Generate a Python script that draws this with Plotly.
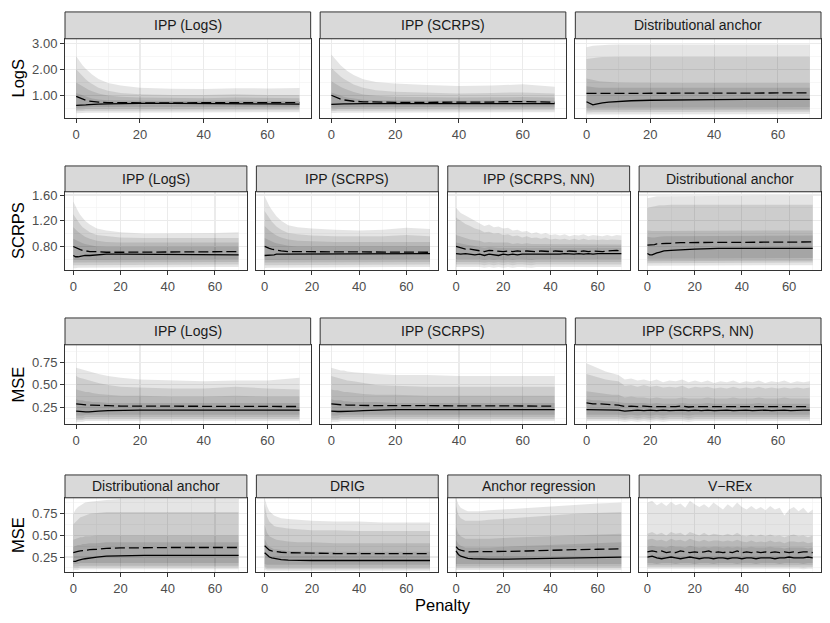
import plotly.graph_objects as go

W, H = 830, 623

# ---------------- penalty grids ----------------
XS = [0, 1, 2, 3, 4, 5, 7, 10, 14, 20, 30, 40, 50, 60, 70]
XN = [0, 2, 4, 6, 8, 10, 12, 14, 16, 18, 20, 22, 24, 26, 28, 30, 32, 34,
      36, 38, 40, 42, 44, 46, 48, 50, 52, 54, 56, 58, 60, 62, 64, 66, 68, 70]

# ================= Row 1 : LogS =================
# IPP (LogS)
L1_HI1 = [2.50, 2.32, 2.16, 2.02, 1.90, 1.80, 1.63, 1.48, 1.38, 1.30, 1.26, 1.25, 1.28, 1.27, 1.29]
L1_HI2 = [2.00, 1.86, 1.73, 1.62, 1.52, 1.44, 1.30, 1.18, 1.10, 1.05, 1.02, 1.02, 1.05, 1.02, 1.02]
L1_HI3 = [1.50, 1.42, 1.34, 1.27, 1.21, 1.16, 1.08, 1.00, 0.95, 0.92, 0.90, 0.90, 0.92, 0.90, 0.90]
L1_HI4 = [1.10, 1.05, 1.00, 0.96, 0.92, 0.89, 0.85, 0.82, 0.81, 0.80, 0.79, 0.80, 0.81, 0.79, 0.79]
L1_LO4 = [0.52, 0.53, 0.54, 0.55, 0.55, 0.56, 0.56, 0.57, 0.57, 0.58, 0.58, 0.58, 0.58, 0.57, 0.57]
L1_LO3 = [0.46, 0.47, 0.47, 0.48, 0.48, 0.49, 0.49, 0.50, 0.50, 0.50, 0.50, 0.50, 0.50, 0.50, 0.50]
L1_LO2 = [0.40, 0.41, 0.41, 0.42, 0.42, 0.43, 0.43, 0.44, 0.44, 0.44, 0.44, 0.44, 0.44, 0.44, 0.44]
L1_LO1 = [0.32, 0.33, 0.33, 0.34, 0.34, 0.35, 0.35, 0.36, 0.36, 0.36, 0.36, 0.36, 0.36, 0.36, 0.36]
L1_MEAN = [0.97, 0.91, 0.86, 0.82, 0.79, 0.77, 0.75, 0.73, 0.72, 0.72, 0.72, 0.73, 0.74, 0.73, 0.73]
L1_MED = [0.62, 0.62, 0.63, 0.64, 0.65, 0.66, 0.67, 0.68, 0.69, 0.70, 0.70, 0.70, 0.70, 0.68, 0.67]

# IPP (SCRPS)
L2_HI1 = [2.57, 2.42, 2.28, 2.15, 2.04, 1.94, 1.78, 1.62, 1.52, 1.46, 1.40, 1.36, 1.38, 1.43, 1.34]
L2_HI2 = [2.05, 1.93, 1.82, 1.72, 1.63, 1.55, 1.42, 1.30, 1.20, 1.14, 1.10, 1.08, 1.10, 1.12, 1.08]
L2_HI3 = [1.55, 1.47, 1.40, 1.33, 1.27, 1.22, 1.13, 1.04, 0.99, 0.95, 0.93, 0.92, 0.93, 0.94, 0.92]
L2_HI4 = [1.12, 1.07, 1.03, 0.99, 0.95, 0.92, 0.88, 0.84, 0.82, 0.81, 0.80, 0.80, 0.81, 0.82, 0.80]
L2_LO4 = [0.53, 0.54, 0.54, 0.55, 0.55, 0.56, 0.56, 0.57, 0.57, 0.57, 0.57, 0.57, 0.57, 0.57, 0.57]
L2_LO3 = [0.47, 0.47, 0.48, 0.48, 0.49, 0.49, 0.49, 0.50, 0.50, 0.50, 0.50, 0.50, 0.50, 0.50, 0.50]
L2_LO2 = [0.41, 0.41, 0.42, 0.42, 0.43, 0.43, 0.43, 0.44, 0.44, 0.44, 0.44, 0.44, 0.44, 0.44, 0.44]
L2_LO1 = [0.33, 0.33, 0.34, 0.34, 0.35, 0.35, 0.35, 0.36, 0.36, 0.36, 0.36, 0.36, 0.36, 0.36, 0.36]
L2_MEAN = [1.01, 0.95, 0.90, 0.86, 0.83, 0.81, 0.78, 0.76, 0.75, 0.74, 0.74, 0.74, 0.75, 0.77, 0.74]
L2_MED = [0.66, 0.67, 0.67, 0.68, 0.68, 0.68, 0.69, 0.69, 0.69, 0.69, 0.69, 0.69, 0.69, 0.70, 0.69]

# Distributional anchor
L3_HI1 = [2.85, 2.88, 2.90, 2.91, 2.92, 2.93, 2.94, 2.95, 2.95, 2.95, 2.95, 2.95, 2.95, 2.95, 2.95]
L3_HI2 = [2.40, 2.42, 2.44, 2.45, 2.46, 2.47, 2.48, 2.48, 2.48, 2.48, 2.48, 2.48, 2.48, 2.48, 2.48]
L3_HI3 = [1.65, 1.62, 1.59, 1.57, 1.55, 1.54, 1.52, 1.50, 1.49, 1.48, 1.48, 1.48, 1.48, 1.48, 1.48]
L3_HI4 = [1.35, 1.33, 1.32, 1.31, 1.30, 1.30, 1.30, 1.30, 1.30, 1.30, 1.30, 1.30, 1.30, 1.30, 1.30]
L3_LO4 = [0.52, 0.52, 0.53, 0.54, 0.54, 0.55, 0.55, 0.55, 0.55, 0.55, 0.55, 0.55, 0.55, 0.55, 0.55]
L3_LO3 = [0.43, 0.43, 0.44, 0.45, 0.45, 0.46, 0.46, 0.46, 0.46, 0.46, 0.46, 0.46, 0.46, 0.46, 0.46]
L3_LO2 = [0.35, 0.35, 0.36, 0.37, 0.37, 0.38, 0.38, 0.38, 0.38, 0.38, 0.38, 0.38, 0.38, 0.38, 0.38]
L3_LO1 = [0.27, 0.27, 0.28, 0.28, 0.29, 0.29, 0.29, 0.29, 0.29, 0.29, 0.29, 0.29, 0.29, 0.29, 0.29]
L3_MEAN = [1.08, 1.08, 1.09, 1.09, 1.09, 1.10, 1.10, 1.10, 1.10, 1.10, 1.10, 1.10, 1.10, 1.10, 1.10]
L3_MED = [0.76, 0.69, 0.64, 0.67, 0.70, 0.72, 0.75, 0.78, 0.80, 0.82, 0.84, 0.84, 0.85, 0.85, 0.85]

# ================= Row 2 : SCRPS =================
# IPP (LogS)
S1_HI1 = [1.50, 1.42, 1.35, 1.29, 1.24, 1.20, 1.14, 1.08, 1.05, 1.02, 1.00, 1.00, 1.00, 1.01, 1.02]
S1_HI2 = [1.30, 1.24, 1.19, 1.14, 1.10, 1.07, 1.02, 0.98, 0.96, 0.94, 0.93, 0.93, 0.93, 0.93, 0.93]
S1_HI3 = [1.10, 1.06, 1.03, 1.00, 0.97, 0.95, 0.92, 0.89, 0.87, 0.86, 0.86, 0.86, 0.86, 0.86, 0.86]
S1_HI4 = [0.92, 0.90, 0.88, 0.86, 0.85, 0.84, 0.82, 0.80, 0.79, 0.79, 0.79, 0.79, 0.79, 0.79, 0.79]
S1_LO4 = [0.59, 0.59, 0.59, 0.60, 0.60, 0.60, 0.60, 0.60, 0.60, 0.60, 0.60, 0.60, 0.60, 0.60, 0.60]
S1_LO3 = [0.55, 0.55, 0.55, 0.56, 0.56, 0.56, 0.56, 0.56, 0.56, 0.56, 0.56, 0.56, 0.56, 0.56, 0.56]
S1_LO2 = [0.51, 0.51, 0.51, 0.52, 0.52, 0.52, 0.52, 0.52, 0.52, 0.52, 0.52, 0.52, 0.52, 0.52, 0.52]
S1_LO1 = [0.46, 0.46, 0.47, 0.47, 0.47, 0.47, 0.48, 0.48, 0.48, 0.48, 0.48, 0.48, 0.48, 0.48, 0.48]
S1_MEAN = [0.80, 0.78, 0.76, 0.75, 0.74, 0.73, 0.72, 0.72, 0.71, 0.71, 0.71, 0.71, 0.71, 0.71, 0.72]
S1_MED = [0.66, 0.64, 0.64, 0.65, 0.65, 0.66, 0.66, 0.67, 0.68, 0.68, 0.68, 0.68, 0.67, 0.67, 0.67]

# IPP (SCRPS)
S2_HI1 = [1.58, 1.50, 1.43, 1.37, 1.32, 1.27, 1.20, 1.13, 1.10, 1.08, 1.06, 1.05, 1.06, 1.09, 1.07]
S2_HI2 = [1.35, 1.29, 1.24, 1.19, 1.15, 1.11, 1.06, 1.01, 0.99, 0.97, 0.96, 0.96, 0.96, 0.98, 0.96]
S2_HI3 = [1.12, 1.08, 1.05, 1.02, 0.99, 0.97, 0.94, 0.91, 0.89, 0.88, 0.87, 0.87, 0.87, 0.88, 0.87]
S2_HI4 = [0.93, 0.91, 0.89, 0.87, 0.86, 0.85, 0.83, 0.81, 0.80, 0.80, 0.80, 0.80, 0.80, 0.81, 0.80]
S2_LO4 = [0.59, 0.59, 0.60, 0.60, 0.60, 0.60, 0.60, 0.60, 0.60, 0.60, 0.60, 0.60, 0.60, 0.60, 0.60]
S2_LO3 = [0.55, 0.55, 0.56, 0.56, 0.56, 0.56, 0.56, 0.56, 0.56, 0.56, 0.56, 0.56, 0.56, 0.56, 0.56]
S2_LO2 = [0.51, 0.51, 0.52, 0.52, 0.52, 0.52, 0.52, 0.52, 0.52, 0.52, 0.52, 0.52, 0.52, 0.52, 0.52]
S2_LO1 = [0.46, 0.47, 0.47, 0.47, 0.47, 0.48, 0.48, 0.48, 0.48, 0.48, 0.48, 0.48, 0.48, 0.48, 0.48]
S2_MEAN = [0.80, 0.78, 0.77, 0.76, 0.75, 0.74, 0.73, 0.72, 0.72, 0.71, 0.71, 0.71, 0.71, 0.72, 0.71]
S2_MED = [0.66, 0.66, 0.67, 0.67, 0.67, 0.68, 0.68, 0.68, 0.69, 0.69, 0.69, 0.69, 0.69, 0.69, 0.69]

# IPP (SCRPS, NN)  (noisy, on XN)
S3_HI1 = [1.40, 1.32, 1.28, 1.24, 1.20, 1.17, 1.12, 1.14, 1.10, 1.11, 1.08, 1.09, 1.05, 1.06, 1.03, 1.04, 1.00, 1.02,
          0.99, 1.01, 0.98, 0.99, 0.97, 0.99, 0.96, 0.98, 0.97, 0.99, 0.96, 0.98, 0.97, 0.96, 0.98, 0.96, 0.98, 0.97]
S3_HI2 = [1.25, 1.20, 1.15, 1.12, 1.08, 1.06, 1.02, 1.03, 1.00, 1.01, 0.98, 0.99, 0.96, 0.97, 0.94, 0.96, 0.93, 0.94,
          0.92, 0.94, 0.91, 0.92, 0.91, 0.92, 0.90, 0.92, 0.90, 0.92, 0.90, 0.91, 0.90, 0.91, 0.90, 0.91, 0.90, 0.90]
S3_HI3 = [0.98, 0.95, 0.93, 0.91, 0.90, 0.89, 0.86, 0.87, 0.86, 0.86, 0.85, 0.86, 0.84, 0.85, 0.84, 0.85, 0.84, 0.84,
          0.83, 0.84, 0.83, 0.84, 0.83, 0.84, 0.83, 0.83, 0.83, 0.84, 0.83, 0.83, 0.83, 0.84, 0.83, 0.83, 0.83, 0.83]
S3_HI4 = [0.86, 0.84, 0.83, 0.82, 0.81, 0.80, 0.78, 0.79, 0.78, 0.78, 0.78, 0.78, 0.77, 0.78, 0.77, 0.78, 0.77, 0.77,
          0.77, 0.77, 0.77, 0.77, 0.77, 0.77, 0.77, 0.77, 0.77, 0.78, 0.77, 0.77, 0.77, 0.78, 0.77, 0.78, 0.78, 0.78]
S3_LO4 = [0.60, 0.60, 0.60, 0.60, 0.60, 0.60, 0.59, 0.60, 0.59, 0.60, 0.59, 0.60, 0.59, 0.60, 0.60, 0.60, 0.59, 0.60,
          0.60, 0.60, 0.60, 0.60, 0.60, 0.60, 0.60, 0.60, 0.60, 0.60, 0.60, 0.60, 0.60, 0.60, 0.60, 0.61, 0.60, 0.60]
S3_LO3 = [0.56, 0.56, 0.56, 0.56, 0.56, 0.56, 0.55, 0.56, 0.55, 0.56, 0.55, 0.56, 0.55, 0.56, 0.56, 0.56, 0.55, 0.56,
          0.56, 0.56, 0.56, 0.56, 0.56, 0.56, 0.56, 0.56, 0.56, 0.56, 0.56, 0.56, 0.56, 0.56, 0.56, 0.57, 0.56, 0.56]
S3_LO2 = [0.52, 0.52, 0.52, 0.52, 0.52, 0.52, 0.51, 0.52, 0.51, 0.52, 0.51, 0.52, 0.51, 0.52, 0.52, 0.52, 0.51, 0.52,
          0.52, 0.52, 0.52, 0.52, 0.52, 0.52, 0.52, 0.52, 0.52, 0.52, 0.52, 0.52, 0.52, 0.52, 0.52, 0.53, 0.52, 0.52]
S3_LO1 = [0.48, 0.48, 0.48, 0.48, 0.48, 0.48, 0.47, 0.48, 0.47, 0.48, 0.47, 0.48, 0.47, 0.48, 0.48, 0.48, 0.47, 0.48,
          0.48, 0.48, 0.48, 0.48, 0.48, 0.48, 0.48, 0.48, 0.48, 0.48, 0.48, 0.48, 0.48, 0.48, 0.48, 0.49, 0.48, 0.48]
S3_MEAN = [0.80, 0.78, 0.76, 0.76, 0.75, 0.74, 0.72, 0.74, 0.73, 0.73, 0.72, 0.73, 0.72, 0.73, 0.72, 0.73, 0.72, 0.72,
           0.73, 0.72, 0.72, 0.73, 0.72, 0.72, 0.73, 0.72, 0.72, 0.73, 0.72, 0.73, 0.72, 0.72, 0.73, 0.74, 0.74, 0.73]
S3_MED = [0.69, 0.68, 0.69, 0.68, 0.67, 0.68, 0.66, 0.68, 0.67, 0.66, 0.68, 0.67, 0.68, 0.67, 0.68, 0.68, 0.67, 0.68,
          0.68, 0.67, 0.68, 0.68, 0.68, 0.69, 0.68, 0.68, 0.69, 0.68, 0.69, 0.68, 0.69, 0.69, 0.69, 0.70, 0.69, 0.69]

# Distributional anchor
S4_HI1 = [1.55, 1.56, 1.57, 1.57, 1.58, 1.58, 1.58, 1.58, 1.59, 1.59, 1.59, 1.59, 1.59, 1.59, 1.59]
S4_HI2 = [1.40, 1.41, 1.42, 1.43, 1.43, 1.44, 1.44, 1.45, 1.45, 1.45, 1.45, 1.45, 1.45, 1.45, 1.45]
S4_HI3 = [1.05, 1.04, 1.04, 1.04, 1.04, 1.04, 1.05, 1.05, 1.05, 1.05, 1.05, 1.05, 1.05, 1.05, 1.05]
S4_HI4 = [0.95, 0.94, 0.94, 0.94, 0.95, 0.95, 0.96, 0.96, 0.97, 0.97, 0.97, 0.97, 0.97, 0.97, 0.97]
S4_LO4 = [0.61, 0.61, 0.61, 0.62, 0.62, 0.62, 0.62, 0.62, 0.62, 0.62, 0.62, 0.62, 0.62, 0.62, 0.62]
S4_LO3 = [0.57, 0.57, 0.57, 0.58, 0.58, 0.58, 0.58, 0.58, 0.58, 0.58, 0.58, 0.58, 0.58, 0.58, 0.58]
S4_LO2 = [0.54, 0.54, 0.54, 0.55, 0.55, 0.55, 0.55, 0.55, 0.55, 0.55, 0.55, 0.55, 0.55, 0.55, 0.55]
S4_LO1 = [0.50, 0.50, 0.50, 0.51, 0.51, 0.51, 0.51, 0.51, 0.51, 0.51, 0.51, 0.51, 0.51, 0.51, 0.51]
S4_MEAN = [0.82, 0.82, 0.83, 0.83, 0.84, 0.84, 0.85, 0.85, 0.86, 0.86, 0.87, 0.87, 0.87, 0.87, 0.87]
S4_MED = [0.69, 0.67, 0.67, 0.69, 0.70, 0.71, 0.73, 0.74, 0.75, 0.76, 0.77, 0.77, 0.77, 0.77, 0.77]

# ================= Row 3 : MSE =================
# IPP (LogS)
M1_HI1 = [0.69, 0.68, 0.67, 0.66, 0.65, 0.64, 0.62, 0.60, 0.58, 0.56, 0.55, 0.54, 0.55, 0.55, 0.58]
M1_HI2 = [0.60, 0.58, 0.57, 0.56, 0.55, 0.54, 0.52, 0.50, 0.48, 0.47, 0.46, 0.46, 0.48, 0.46, 0.45]
M1_HI3 = [0.45, 0.44, 0.43, 0.42, 0.42, 0.41, 0.40, 0.39, 0.38, 0.38, 0.37, 0.37, 0.38, 0.37, 0.37]
M1_HI4 = [0.34, 0.33, 0.33, 0.32, 0.32, 0.31, 0.31, 0.30, 0.30, 0.30, 0.30, 0.30, 0.30, 0.30, 0.30]
M1_LO4 = [0.16, 0.16, 0.16, 0.17, 0.17, 0.17, 0.17, 0.17, 0.17, 0.17, 0.17, 0.17, 0.17, 0.17, 0.17]
M1_LO3 = [0.13, 0.13, 0.13, 0.14, 0.14, 0.14, 0.14, 0.14, 0.14, 0.14, 0.14, 0.14, 0.14, 0.14, 0.14]
M1_LO2 = [0.11, 0.11, 0.11, 0.12, 0.12, 0.12, 0.12, 0.12, 0.12, 0.12, 0.12, 0.12, 0.12, 0.12, 0.12]
M1_LO1 = [0.09, 0.09, 0.09, 0.10, 0.10, 0.10, 0.10, 0.10, 0.10, 0.10, 0.10, 0.10, 0.10, 0.10, 0.10]
M1_MEAN = [0.29, 0.285, 0.28, 0.28, 0.275, 0.275, 0.27, 0.27, 0.265, 0.265, 0.26, 0.26, 0.26, 0.26, 0.26]
M1_MED = [0.21, 0.205, 0.20, 0.20, 0.20, 0.205, 0.21, 0.215, 0.22, 0.22, 0.22, 0.22, 0.22, 0.22, 0.22]

# IPP (SCRPS)
M2_HI1 = [0.69, 0.68, 0.67, 0.66, 0.66, 0.65, 0.64, 0.63, 0.62, 0.61, 0.61, 0.60, 0.60, 0.60, 0.60]
M2_HI2 = [0.60, 0.59, 0.58, 0.57, 0.56, 0.55, 0.54, 0.52, 0.50, 0.49, 0.48, 0.48, 0.48, 0.48, 0.48]
M2_HI3 = [0.45, 0.44, 0.44, 0.43, 0.42, 0.42, 0.41, 0.40, 0.39, 0.39, 0.38, 0.38, 0.38, 0.38, 0.38]
M2_HI4 = [0.34, 0.33, 0.33, 0.33, 0.32, 0.32, 0.31, 0.31, 0.31, 0.30, 0.30, 0.30, 0.30, 0.30, 0.30]
M2_LO4 = [0.16, 0.16, 0.16, 0.17, 0.17, 0.17, 0.17, 0.17, 0.17, 0.17, 0.17, 0.17, 0.17, 0.17, 0.17]
M2_LO3 = [0.13, 0.13, 0.13, 0.14, 0.14, 0.14, 0.14, 0.14, 0.14, 0.14, 0.14, 0.14, 0.14, 0.14, 0.14]
M2_LO2 = [0.11, 0.11, 0.11, 0.12, 0.12, 0.12, 0.12, 0.12, 0.12, 0.12, 0.12, 0.12, 0.12, 0.12, 0.12]
M2_LO1 = [0.09, 0.09, 0.09, 0.10, 0.10, 0.10, 0.10, 0.10, 0.10, 0.10, 0.10, 0.10, 0.10, 0.10, 0.10]
M2_MEAN = [0.29, 0.285, 0.28, 0.28, 0.28, 0.275, 0.275, 0.27, 0.27, 0.27, 0.27, 0.27, 0.27, 0.27, 0.265]
M2_MED = [0.21, 0.205, 0.205, 0.205, 0.205, 0.21, 0.21, 0.215, 0.22, 0.225, 0.225, 0.225, 0.225, 0.225, 0.225]

# IPP (SCRPS, NN)  (noisy, on XN)
M3_HI1 = [0.74, 0.71, 0.68, 0.65, 0.63, 0.61, 0.56, 0.57, 0.55, 0.56, 0.54, 0.56, 0.53, 0.55, 0.54, 0.56, 0.53, 0.55,
          0.53, 0.55, 0.52, 0.54, 0.53, 0.55, 0.52, 0.54, 0.53, 0.55, 0.52, 0.54, 0.53, 0.55, 0.52, 0.54, 0.53, 0.54]
M3_HI2 = [0.62, 0.60, 0.58, 0.56, 0.55, 0.54, 0.49, 0.50, 0.48, 0.50, 0.48, 0.49, 0.47, 0.48, 0.47, 0.49, 0.46, 0.48,
          0.47, 0.48, 0.46, 0.47, 0.46, 0.48, 0.46, 0.47, 0.46, 0.48, 0.46, 0.47, 0.46, 0.47, 0.46, 0.47, 0.46, 0.47]
M3_HI3 = [0.43, 0.42, 0.41, 0.40, 0.39, 0.39, 0.36, 0.37, 0.36, 0.36, 0.35, 0.36, 0.35, 0.35, 0.35, 0.36, 0.35, 0.35,
          0.35, 0.36, 0.35, 0.35, 0.35, 0.36, 0.35, 0.35, 0.35, 0.36, 0.35, 0.35, 0.35, 0.36, 0.35, 0.35, 0.35, 0.35]
M3_HI4 = [0.34, 0.33, 0.33, 0.32, 0.32, 0.31, 0.30, 0.30, 0.30, 0.30, 0.29, 0.30, 0.29, 0.29, 0.29, 0.30, 0.29, 0.29,
          0.29, 0.30, 0.29, 0.29, 0.29, 0.29, 0.29, 0.29, 0.29, 0.30, 0.29, 0.29, 0.29, 0.29, 0.29, 0.29, 0.29, 0.29]
M3_LO4 = [0.17, 0.17, 0.17, 0.17, 0.17, 0.17, 0.16, 0.17, 0.16, 0.17, 0.16, 0.17, 0.16, 0.17, 0.17, 0.17, 0.16, 0.17,
          0.17, 0.17, 0.17, 0.17, 0.17, 0.17, 0.17, 0.17, 0.17, 0.17, 0.17, 0.17, 0.17, 0.17, 0.17, 0.17, 0.17, 0.17]
M3_LO3 = [0.14, 0.14, 0.14, 0.14, 0.14, 0.14, 0.13, 0.14, 0.13, 0.14, 0.13, 0.14, 0.13, 0.14, 0.14, 0.14, 0.13, 0.14,
          0.14, 0.14, 0.14, 0.14, 0.14, 0.14, 0.14, 0.14, 0.14, 0.14, 0.14, 0.14, 0.14, 0.14, 0.14, 0.14, 0.14, 0.14]
M3_LO2 = [0.12, 0.12, 0.12, 0.12, 0.12, 0.12, 0.11, 0.12, 0.11, 0.12, 0.11, 0.12, 0.11, 0.12, 0.12, 0.12, 0.11, 0.12,
          0.12, 0.12, 0.12, 0.12, 0.12, 0.12, 0.12, 0.12, 0.12, 0.12, 0.12, 0.12, 0.12, 0.12, 0.12, 0.12, 0.12, 0.12]
M3_LO1 = [0.10, 0.10, 0.10, 0.10, 0.10, 0.10, 0.09, 0.10, 0.09, 0.10, 0.09, 0.10, 0.09, 0.10, 0.10, 0.10, 0.09, 0.10,
          0.10, 0.10, 0.10, 0.10, 0.10, 0.10, 0.10, 0.10, 0.10, 0.10, 0.10, 0.10, 0.10, 0.10, 0.10, 0.10, 0.10, 0.10]
M3_MEAN = [0.30, 0.29, 0.29, 0.285, 0.28, 0.275, 0.26, 0.265, 0.26, 0.265, 0.26, 0.26, 0.255, 0.26, 0.26, 0.265, 0.255, 0.26,
           0.26, 0.26, 0.255, 0.26, 0.26, 0.26, 0.255, 0.26, 0.26, 0.26, 0.255, 0.26, 0.26, 0.26, 0.255, 0.26, 0.26, 0.26]
M3_MED = [0.225, 0.225, 0.22, 0.22, 0.225, 0.22, 0.21, 0.215, 0.22, 0.215, 0.22, 0.215, 0.22, 0.215, 0.22, 0.22, 0.215, 0.22,
          0.215, 0.22, 0.215, 0.22, 0.22, 0.215, 0.22, 0.22, 0.215, 0.22, 0.22, 0.215, 0.22, 0.22, 0.215, 0.22, 0.22, 0.22]

# ================= Row 4 : MSE =================
# Distributional anchor
D1_HI1 = [0.75, 0.80, 0.83, 0.85, 0.87, 0.88, 0.89, 0.90, 0.91, 0.92, 0.92, 0.92, 0.92, 0.92, 0.92]
D1_HI2 = [0.63, 0.66, 0.69, 0.71, 0.72, 0.73, 0.75, 0.76, 0.77, 0.77, 0.77, 0.77, 0.77, 0.77, 0.77]
D1_HI3 = [0.45, 0.46, 0.47, 0.48, 0.48, 0.49, 0.49, 0.50, 0.50, 0.50, 0.50, 0.50, 0.50, 0.50, 0.50]
D1_HI4 = [0.37, 0.38, 0.39, 0.39, 0.40, 0.40, 0.41, 0.41, 0.42, 0.42, 0.42, 0.42, 0.42, 0.42, 0.42]
D1_LO4 = [0.17, 0.17, 0.17, 0.18, 0.18, 0.18, 0.18, 0.18, 0.18, 0.18, 0.18, 0.18, 0.18, 0.18, 0.18]
D1_LO3 = [0.14, 0.14, 0.14, 0.15, 0.15, 0.15, 0.15, 0.15, 0.15, 0.15, 0.15, 0.15, 0.15, 0.15, 0.15]
D1_LO2 = [0.12, 0.12, 0.12, 0.13, 0.13, 0.13, 0.13, 0.13, 0.13, 0.13, 0.13, 0.13, 0.13, 0.13, 0.13]
D1_LO1 = [0.10, 0.10, 0.10, 0.11, 0.11, 0.11, 0.11, 0.11, 0.11, 0.11, 0.11, 0.11, 0.11, 0.11, 0.11]
D1_MEAN = [0.30, 0.31, 0.315, 0.32, 0.325, 0.33, 0.335, 0.34, 0.35, 0.355, 0.36, 0.36, 0.36, 0.36, 0.36]
D1_MED = [0.20, 0.20, 0.21, 0.22, 0.225, 0.23, 0.24, 0.25, 0.26, 0.265, 0.27, 0.27, 0.27, 0.27, 0.27]

# DRIG
D2_HI1 = [0.93, 0.84, 0.78, 0.75, 0.73, 0.72, 0.70, 0.69, 0.68, 0.67, 0.66, 0.66, 0.65, 0.65, 0.65]
D2_HI2 = [0.86, 0.72, 0.66, 0.63, 0.61, 0.60, 0.59, 0.58, 0.57, 0.56, 0.56, 0.55, 0.55, 0.55, 0.55]
D2_HI3 = [0.62, 0.53, 0.49, 0.47, 0.46, 0.45, 0.44, 0.43, 0.42, 0.42, 0.41, 0.41, 0.41, 0.41, 0.41]
D2_HI4 = [0.46, 0.40, 0.37, 0.35, 0.34, 0.34, 0.33, 0.32, 0.32, 0.31, 0.31, 0.31, 0.31, 0.31, 0.31]
D2_LO4 = [0.17, 0.16, 0.16, 0.16, 0.16, 0.16, 0.16, 0.16, 0.16, 0.16, 0.16, 0.16, 0.16, 0.16, 0.16]
D2_LO3 = [0.14, 0.13, 0.13, 0.13, 0.13, 0.13, 0.13, 0.13, 0.13, 0.13, 0.13, 0.13, 0.13, 0.13, 0.13]
D2_LO2 = [0.12, 0.11, 0.11, 0.11, 0.11, 0.11, 0.11, 0.11, 0.11, 0.11, 0.11, 0.11, 0.11, 0.11, 0.11]
D2_LO1 = [0.10, 0.09, 0.09, 0.09, 0.09, 0.09, 0.09, 0.09, 0.09, 0.09, 0.09, 0.09, 0.09, 0.09, 0.09]
D2_MEAN = [0.38, 0.35, 0.33, 0.32, 0.315, 0.31, 0.305, 0.30, 0.295, 0.295, 0.29, 0.29, 0.29, 0.29, 0.29]
D2_MED = [0.30, 0.27, 0.25, 0.24, 0.235, 0.23, 0.22, 0.215, 0.21, 0.21, 0.21, 0.21, 0.21, 0.21, 0.21]

# Anchor regression
D3_HI1 = [0.94, 0.86, 0.82, 0.80, 0.79, 0.78, 0.78, 0.78, 0.79, 0.80, 0.82, 0.84, 0.85, 0.87, 0.88]
D3_HI2 = [0.84, 0.74, 0.70, 0.68, 0.67, 0.67, 0.67, 0.67, 0.68, 0.69, 0.71, 0.73, 0.75, 0.76, 0.77]
D3_HI3 = [0.60, 0.52, 0.49, 0.47, 0.46, 0.46, 0.46, 0.46, 0.46, 0.47, 0.48, 0.49, 0.50, 0.51, 0.52]
D3_HI4 = [0.45, 0.40, 0.38, 0.37, 0.36, 0.36, 0.36, 0.36, 0.36, 0.37, 0.38, 0.39, 0.40, 0.41, 0.42]
D3_LO4 = [0.17, 0.17, 0.17, 0.17, 0.17, 0.17, 0.17, 0.17, 0.17, 0.17, 0.17, 0.17, 0.17, 0.17, 0.17]
D3_LO3 = [0.14, 0.14, 0.14, 0.14, 0.14, 0.14, 0.14, 0.14, 0.14, 0.14, 0.14, 0.14, 0.14, 0.14, 0.14]
D3_LO2 = [0.12, 0.12, 0.12, 0.12, 0.12, 0.12, 0.12, 0.12, 0.12, 0.12, 0.12, 0.12, 0.12, 0.12, 0.12]
D3_LO1 = [0.10, 0.10, 0.10, 0.10, 0.10, 0.10, 0.10, 0.10, 0.10, 0.10, 0.10, 0.10, 0.10, 0.10, 0.10]
D3_MEAN = [0.37, 0.34, 0.33, 0.32, 0.315, 0.31, 0.31, 0.31, 0.31, 0.315, 0.32, 0.33, 0.335, 0.34, 0.345]
D3_MED = [0.32, 0.28, 0.26, 0.25, 0.24, 0.235, 0.23, 0.225, 0.225, 0.225, 0.23, 0.235, 0.24, 0.245, 0.25]

# V-REx  (noisy, on XN)
D4_HI1 = [0.88, 0.90, 0.85, 0.88, 0.84, 0.89, 0.85, 0.87, 0.82, 0.90, 0.86, 0.83, 0.86, 0.82, 0.88, 0.84, 0.80, 0.86,
          0.82, 0.88, 0.83, 0.80, 0.84, 0.80, 0.83, 0.79, 0.84, 0.80, 0.82, 0.73, 0.80, 0.83, 0.78, 0.82, 0.76, 0.80]
D4_HI2 = [0.52, 0.54, 0.51, 0.53, 0.50, 0.54, 0.52, 0.53, 0.50, 0.54, 0.52, 0.50, 0.53, 0.50, 0.52, 0.51, 0.50, 0.52,
          0.50, 0.53, 0.50, 0.49, 0.51, 0.49, 0.51, 0.49, 0.51, 0.49, 0.50, 0.48, 0.50, 0.51, 0.49, 0.50, 0.48, 0.50]
D4_HI3 = [0.45, 0.46, 0.44, 0.45, 0.43, 0.46, 0.44, 0.45, 0.43, 0.46, 0.44, 0.43, 0.45, 0.43, 0.44, 0.44, 0.43, 0.44,
          0.43, 0.45, 0.43, 0.42, 0.44, 0.42, 0.43, 0.42, 0.44, 0.42, 0.43, 0.41, 0.43, 0.43, 0.42, 0.43, 0.41, 0.42]
D4_HI4 = [0.37, 0.38, 0.37, 0.37, 0.36, 0.38, 0.37, 0.37, 0.36, 0.38, 0.37, 0.36, 0.37, 0.36, 0.37, 0.37, 0.36, 0.37,
          0.36, 0.37, 0.36, 0.36, 0.37, 0.36, 0.36, 0.36, 0.37, 0.36, 0.36, 0.35, 0.36, 0.36, 0.36, 0.36, 0.35, 0.36]
D4_LO4 = [0.18, 0.18, 0.17, 0.18, 0.18, 0.18, 0.17, 0.18, 0.18, 0.18, 0.17, 0.18, 0.18, 0.18, 0.17, 0.18, 0.18, 0.18,
          0.18, 0.17, 0.18, 0.18, 0.18, 0.17, 0.18, 0.18, 0.18, 0.18, 0.17, 0.18, 0.18, 0.18, 0.18, 0.17, 0.18, 0.18]
D4_LO3 = [0.155, 0.155, 0.15, 0.155, 0.155, 0.155, 0.15, 0.155, 0.155, 0.155, 0.15, 0.155, 0.155, 0.155, 0.15, 0.155, 0.155, 0.155,
          0.155, 0.15, 0.155, 0.155, 0.155, 0.15, 0.155, 0.155, 0.155, 0.155, 0.15, 0.155, 0.155, 0.155, 0.155, 0.15, 0.155, 0.155]
D4_LO2 = [0.135, 0.135, 0.13, 0.135, 0.135, 0.135, 0.13, 0.135, 0.135, 0.135, 0.13, 0.135, 0.135, 0.135, 0.13, 0.135, 0.135, 0.135,
          0.135, 0.13, 0.135, 0.135, 0.135, 0.13, 0.135, 0.135, 0.135, 0.135, 0.13, 0.135, 0.135, 0.135, 0.135, 0.13, 0.135, 0.135]
D4_LO1 = [0.115, 0.115, 0.11, 0.115, 0.115, 0.115, 0.11, 0.115, 0.115, 0.115, 0.11, 0.115, 0.115, 0.115, 0.11, 0.115, 0.115, 0.115,
          0.115, 0.11, 0.115, 0.115, 0.115, 0.11, 0.115, 0.115, 0.115, 0.115, 0.11, 0.115, 0.115, 0.115, 0.115, 0.11, 0.115, 0.115]
D4_MEAN = [0.31, 0.32, 0.31, 0.32, 0.30, 0.31, 0.30, 0.32, 0.31, 0.30, 0.31, 0.30, 0.31, 0.32, 0.30, 0.31, 0.30, 0.31,
           0.30, 0.32, 0.30, 0.31, 0.30, 0.31, 0.30, 0.31, 0.30, 0.31, 0.30, 0.31, 0.30, 0.31, 0.30, 0.31, 0.31, 0.30]
D4_MED = [0.25, 0.26, 0.24, 0.23, 0.24, 0.25, 0.24, 0.23, 0.24, 0.25, 0.24, 0.23, 0.24, 0.24, 0.23, 0.24, 0.24, 0.23,
          0.24, 0.24, 0.23, 0.24, 0.24, 0.23, 0.24, 0.24, 0.24, 0.23, 0.24, 0.24, 0.25, 0.24, 0.24, 0.24, 0.25, 0.24]

# ---------------- facet table (built from the arrays above) ----------------
ROWS = [
    dict(title="LogS", strip=(8, 35), plot=(35, 115), ncol=3, yrange=[0.13, 3.17],
         ticks=[1, 2, 3], ticktext=["1.00", "2.00", "3.00"], minor=[0.5, 1.5, 2.5]),
    dict(title="SCRPS", strip=(163, 189), plot=(189, 268), ncol=4, yrange=[0.43, 1.65],
         ticks=[0.8, 1.2, 1.6], ticktext=["0.80", "1.20", "1.60"], minor=[0.6, 1.0, 1.4]),
    dict(title="MSE", strip=(316, 343), plot=(343, 423), ncol=3, yrange=[0.063, 0.945],
         ticks=[0.25, 0.5, 0.75], ticktext=["0.25", "0.50", "0.75"], minor=[0.125, 0.375, 0.625, 0.875]),
    dict(title="MSE", strip=(474, 497), plot=(497, 572), ncol=4, yrange=[0.073, 0.935],
         ticks=[0.25, 0.5, 0.75], ticktext=["0.25", "0.50", "0.75"], minor=[0.125, 0.375, 0.625, 0.875]),
]

PANELS = [
    (0, "IPP (LogS)", XS, [L1_HI1, L1_HI2, L1_HI3, L1_HI4], [L1_LO1, L1_LO2, L1_LO3, L1_LO4], L1_MEAN, L1_MED),
    (0, "IPP (SCRPS)", XS, [L2_HI1, L2_HI2, L2_HI3, L2_HI4], [L2_LO1, L2_LO2, L2_LO3, L2_LO4], L2_MEAN, L2_MED),
    (0, "Distributional anchor", XS, [L3_HI1, L3_HI2, L3_HI3, L3_HI4], [L3_LO1, L3_LO2, L3_LO3, L3_LO4], L3_MEAN, L3_MED),
    (1, "IPP (LogS)", XS, [S1_HI1, S1_HI2, S1_HI3, S1_HI4], [S1_LO1, S1_LO2, S1_LO3, S1_LO4], S1_MEAN, S1_MED),
    (1, "IPP (SCRPS)", XS, [S2_HI1, S2_HI2, S2_HI3, S2_HI4], [S2_LO1, S2_LO2, S2_LO3, S2_LO4], S2_MEAN, S2_MED),
    (1, "IPP (SCRPS, NN)", XN, [S3_HI1, S3_HI2, S3_HI3, S3_HI4], [S3_LO1, S3_LO2, S3_LO3, S3_LO4], S3_MEAN, S3_MED),
    (1, "Distributional anchor", XS, [S4_HI1, S4_HI2, S4_HI3, S4_HI4], [S4_LO1, S4_LO2, S4_LO3, S4_LO4], S4_MEAN, S4_MED),
    (2, "IPP (LogS)", XS, [M1_HI1, M1_HI2, M1_HI3, M1_HI4], [M1_LO1, M1_LO2, M1_LO3, M1_LO4], M1_MEAN, M1_MED),
    (2, "IPP (SCRPS)", XS, [M2_HI1, M2_HI2, M2_HI3, M2_HI4], [M2_LO1, M2_LO2, M2_LO3, M2_LO4], M2_MEAN, M2_MED),
    (2, "IPP (SCRPS, NN)", XN, [M3_HI1, M3_HI2, M3_HI3, M3_HI4], [M3_LO1, M3_LO2, M3_LO3, M3_LO4], M3_MEAN, M3_MED),
    (3, "Distributional anchor", XS, [D1_HI1, D1_HI2, D1_HI3, D1_HI4], [D1_LO1, D1_LO2, D1_LO3, D1_LO4], D1_MEAN, D1_MED),
    (3, "DRIG", XS, [D2_HI1, D2_HI2, D2_HI3, D2_HI4], [D2_LO1, D2_LO2, D2_LO3, D2_LO4], D2_MEAN, D2_MED),
    (3, "Anchor regression", XS, [D3_HI1, D3_HI2, D3_HI3, D3_HI4], [D3_LO1, D3_LO2, D3_LO3, D3_LO4], D3_MEAN, D3_MED),
    (3, "V\u2212REx", XN, [D4_HI1, D4_HI2, D4_HI3, D4_HI4], [D4_LO1, D4_LO2, D4_LO3, D4_LO4], D4_MEAN, D4_MED),
]

# ---------------- styling ----------------
FONT = "Liberation Sans, Arial, Helvetica, sans-serif"
LEFT, RIGHT, GAP = 65.0, 821.0, 9.5
BAND_FILL = "rgba(0,0,0,0.10)"
BORDER = "#333333"
GRID = "#EBEBEB"

fig = go.Figure()
layout = dict(
    width=W, height=H, autosize=False,
    margin=dict(l=0, r=0, t=0, b=0),
    paper_bgcolor="white", plot_bgcolor="white",
    showlegend=False, font=dict(family=FONT), hovermode=False,
)
shapes, annotations = [], []

col_counter = {0: 0, 1: 0, 2: 0, 3: 0}
for idx, (r, title, xs, his, los, mean, med) in enumerate(PANELS):
    row = ROWS[r]
    c = col_counter[r]
    col_counter[r] += 1
    n = row["ncol"]
    pw = (RIGHT - LEFT - (n - 1) * GAP) / n
    x0 = LEFT + c * (pw + GAP)
    x1 = x0 + pw
    py0, py1 = row["plot"]
    sy0, sy1 = row["strip"]
    k = "" if idx == 0 else str(idx + 1)
    xa, ya = "x" + k, "y" + k

    for hi, lo in zip(his, los):
        assert len(hi) == len(xs) and len(lo) == len(xs)
        fig.add_trace(go.Scatter(
            x=list(xs) + list(xs)[::-1], y=list(hi) + list(lo)[::-1],
            xaxis=xa, yaxis=ya, mode="lines", fill="toself",
            fillcolor=BAND_FILL, line=dict(width=0), hoverinfo="skip"))
    assert len(med) == len(xs) and len(mean) == len(xs)
    fig.add_trace(go.Scatter(x=xs, y=med, xaxis=xa, yaxis=ya, mode="lines",
                             line=dict(color="black", width=1.3)))
    fig.add_trace(go.Scatter(x=xs, y=mean, xaxis=xa, yaxis=ya, mode="lines",
                             line=dict(color="black", width=1.3, dash="10px,4px")))

    first = (c == 0)
    layout["xaxis" + k] = dict(
        domain=[x0 / W, x1 / W], anchor=ya, range=[-3.5, 73.5],
        tickmode="array", tickvals=[0, 20, 40, 60], ticktext=["0", "20", "40", "60"],
        ticks="outside", ticklen=4, tickwidth=1, tickcolor=BORDER,
        tickfont=dict(family=FONT, size=13, color="#4D4D4D"),
        showgrid=True, gridcolor=GRID, gridwidth=1.1, zeroline=False,
        minor=dict(tickmode="array", tickvals=[10, 30, 50, 70], showgrid=True,
                   gridcolor="#F2F2F2", gridwidth=0.6, ticks=""),
        showline=True, mirror=True, linecolor=BORDER, linewidth=1,
    )
    layout["yaxis" + k] = dict(
        domain=[1 - py1 / H, 1 - py0 / H], anchor=xa, range=row["yrange"],
        tickmode="array", tickvals=row["ticks"], ticktext=row["ticktext"],
        ticks="outside" if first else "", ticklen=4, tickwidth=1, tickcolor=BORDER,
        showticklabels=first,
        tickfont=dict(family=FONT, size=13, color="#4D4D4D"),
        showgrid=True, gridcolor=GRID, gridwidth=1.1, zeroline=False,
        minor=dict(tickmode="array", tickvals=row["minor"], showgrid=True,
                   gridcolor="#F2F2F2", gridwidth=0.6, ticks=""),
        showline=True, mirror=True, linecolor=BORDER, linewidth=1,
    )
    # facet strip
    shapes.append(dict(type="rect", xref="paper", yref="paper",
                       x0=x0 / W, x1=x1 / W, y0=1 - sy1 / H, y1=1 - sy0 / H,
                       fillcolor="#D9D9D9", line=dict(color=BORDER, width=1), layer="above"))
    annotations.append(dict(xref="paper", yref="paper", x=(x0 + x1) / 2 / W,
                            y=1 - (sy0 + sy1) / 2 / H, text=title, showarrow=False,
                            xanchor="center", yanchor="middle",
                            font=dict(family=FONT, size=14, color="#1A1A1A")))

# row titles
for row in ROWS:
    py0, py1 = row["plot"]
    annotations.append(dict(xref="paper", yref="paper", x=18 / W, y=1 - (py0 + py1) / 2 / H,
                            text=row["title"], textangle=-90, showarrow=False,
                            xanchor="center", yanchor="middle",
                            font=dict(family=FONT, size=16.5, color="black")))
annotations.append(dict(xref="paper", yref="paper", x=(LEFT + RIGHT) / 2 / W, y=1 - 605 / H,
                        text="Penalty", showarrow=False, xanchor="center", yanchor="middle",
                        font=dict(family=FONT, size=16.5, color="black")))

layout["shapes"] = shapes
layout["annotations"] = annotations
fig.update_layout(**layout)
fig.write_html("out.html",
               config={"displayModeBar": False, "staticPlot": True},
               post_script="document.body.style.margin='0';document.body.style.padding='0';"
                           "document.documentElement.style.overflow='hidden';")
